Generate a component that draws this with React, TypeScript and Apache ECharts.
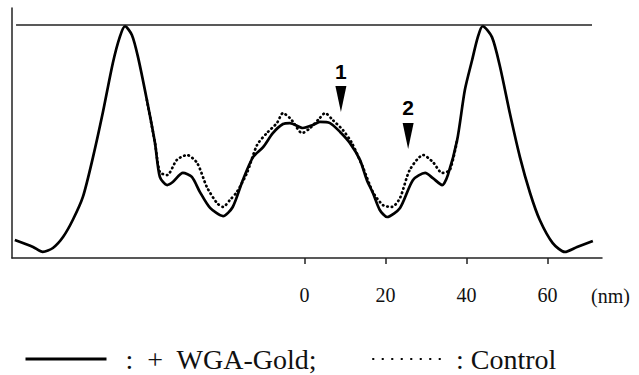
import React, { useEffect, useRef } from "react";
import * as echarts from "echarts";

// Distance along the profile (nm) and relative density, + WGA-Gold (solid)
const wgaX = [-71.5, -67.0, -64.6, -62.1, -59.6, -57.2, -54.7, -52.2, -49.8, -47.3, -45.6, -44.3, -42.6, -41.1, -38.9, -36.9, -35.7, -33.9, -32.5, -30.0, -27.8, -25.8, -23.3, -20.1, -17.7, -15.2, -12.7, -10.2, -7.8, -5.3, -3.6, -0.4, 2.1, 3.8, 6.3, 8.8, 11.2, 13.7, 15.4, 16.9, 18.6, 20.4, 23.6, 26.8, 29.8, 31.7, 34.0, 35.4, 37.7, 39.6, 41.4, 42.8, 44.0, 46.3, 48.3, 50.7, 53.2, 55.7, 58.1, 61.3, 64.3, 67.3, 71.2];
const wgaY = [7.7, 4.7, 2.6, 4.3, 9.0, 16.3, 26.2, 43.3, 62.2, 83.7, 94.8, 99.5, 95.7, 86.3, 67.8, 49.4, 34.8, 31.3, 32.6, 36.5, 34.8, 28.3, 21.5, 18.0, 21.9, 33.5, 43.3, 47.6, 53.6, 57.5, 57.9, 55.8, 57.1, 58.4, 57.9, 54.1, 49.4, 42.1, 33.5, 27.9, 20.6, 17.6, 21.5, 33.5, 36.5, 34.3, 31.3, 35.6, 50.6, 72.1, 85.0, 94.8, 99.5, 94.8, 82.0, 62.2, 43.3, 27.9, 16.3, 6.4, 2.6, 4.7, 7.3];

// Control (dotted) where it departs from the solid curve
const ctrlX = [-38.9, -36.9, -35.7, -33.9, -31.5, -29.0, -26.5, -24.1, -21.6, -20.1, -18.4, -16.7, -14.2, -11.7, -9.3, -6.8, -5.3, -3.6, -2.8, -0.6, 1.4, 3.8, 5.1, 7.0, 9.5, 11.7, 14.4, 16.9, 19.4, 21.6, 23.6, 26.0, 29.3, 31.7, 34.0, 35.9, 37.7];
const ctrlY = [67.8, 49.4, 36.9, 35.6, 42.1, 44.2, 40.8, 30.5, 23.6, 21.9, 24.9, 28.3, 36.5, 48.5, 53.6, 57.9, 62.2, 60.1, 58.4, 53.6, 55.8, 60.1, 62.2, 59.2, 54.9, 49.4, 39.1, 28.3, 22.7, 21.9, 25.8, 37.8, 44.2, 41.2, 36.5, 37.8, 50.6];

// Arrow annotations
const arrowLabels = ["1", "2"];
const arrowX = [9.0, 25.6];
const arrowY = [68.2, 52.4];

// Tick labels on the distance axis
const tickValues = [0, 20, 40, 60];

const X_MIN = -72.2;
const X_MAX = 73.46;
const Y_MAX = 107.3;

const SERIF = "'Liberation Serif', 'DejaVu Serif', serif";
const SANS = "'Liberation Sans', Arial, sans-serif";

export default function App() {
  const ref = useRef<HTMLDivElement>(null);
  useEffect(() => {
    if (!ref.current) return;
    const chart = echarts.init(ref.current, undefined, { renderer: "svg" });
    const wga = wgaX.map((x, i) => [x, wgaY[i]]);
    const ctrl = ctrlX.map((x, i) => [x, ctrlY[i]]);
    const legendText = { fontFamily: SERIF, fontSize: 28, color: "#111" };
    const hiddenSymbol = { opacity: 0, color: "rgba(0,0,0,0)", borderWidth: 0 };
    chart.setOption({
      animation: false,
      backgroundColor: "#ffffff",
      grid: [
        { left: 12, top: 8, width: 590, height: 250, containLabel: false },
        { left: 304.5, top: 8, width: 243, height: 250, containLabel: false },
      ],
      xAxis: [
        {
          type: "value",
          gridIndex: 0,
          min: X_MIN,
          max: X_MAX,
          axisLine: { show: true, onZero: false, lineStyle: { color: "#222", width: 1.5 } },
          axisTick: { show: false },
          axisLabel: { show: false },
          splitLine: { show: false },
        },
        {
          type: "value",
          gridIndex: 1,
          min: tickValues[0],
          max: tickValues[tickValues.length - 1],
          interval: 20,
          axisLine: { show: false, onZero: false },
          axisTick: { show: true, length: 6, lineStyle: { color: "#222", width: 1.5 } },
          axisLabel: {
            show: true,
            margin: 27,
            fontFamily: SERIF,
            fontSize: 20,
            color: "#111",
          },
          splitLine: { show: false },
        },
      ],
      yAxis: [
        {
          type: "value",
          gridIndex: 0,
          min: 0,
          max: Y_MAX,
          axisLine: { show: true, onZero: false, lineStyle: { color: "#222", width: 1.5 } },
          axisTick: { show: false },
          axisLabel: { show: false },
          splitLine: { show: false },
        },
        {
          type: "value",
          gridIndex: 1,
          min: 0,
          max: Y_MAX,
          show: false,
          axisLine: { show: false, onZero: false },
          axisTick: { show: false },
          axisLabel: { show: false },
          splitLine: { show: false },
        },
      ],
      legend: [
        {
          left: 19,
          top: 340,
          itemWidth: 81,
          itemHeight: 22,
          textStyle: legendText,
          itemStyle: hiddenSymbol,
          lineStyle: { width: 3 },
          data: ["WGA"],
          formatter: () => "  :  +  WGA-Gold;",
        },
        {
          left: 367,
          top: 340,
          itemWidth: 71,
          itemHeight: 22,
          textStyle: legendText,
          itemStyle: hiddenSymbol,
          lineStyle: { width: 2, type: [0.5, 9], cap: "round" },
          data: ["Control"],
          formatter: () => " : Control",
        },
      ],
      graphic: [
        {
          type: "text",
          left: 591,
          top: 286,
          style: { text: "(nm)", font: `20px ${SERIF}`, fill: "#111" },
        },
      ],
      series: [
        {
          name: "Control",
          type: "line",
          xAxisIndex: 0,
          yAxisIndex: 0,
          data: ctrl,
          smooth: 0.25,
          symbol: "none",
          lineStyle: { color: "#000", width: 2.7, type: [0.5, 4], cap: "round" },
          itemStyle: { color: "#000" },
          z: 2,
          markPoint: {
            symbol: "triangle",
            symbolRotate: 180,
            symbolSize: [11, 26],
            itemStyle: { color: "#000" },
            label: {
              show: true,
              position: "inside",
              offset: [0, -28],
              fontFamily: SANS,
              fontWeight: "bold",
              fontSize: 21,
              color: "#000",
              formatter: (p: any) => p.name,
            },
            data: arrowLabels.map((n, i) => ({ name: n, coord: [arrowX[i], arrowY[i]] })),
          },
        },
        {
          name: "WGA",
          type: "line",
          xAxisIndex: 0,
          yAxisIndex: 0,
          data: wga,
          smooth: 0.25,
          symbol: "none",
          lineStyle: { color: "#000", width: 2.7 },
          itemStyle: { color: "#000" },
          z: 3,
          markLine: {
            silent: true,
            symbol: ["none", "none"],
            label: { show: false },
            lineStyle: { color: "#222", width: 1.5, type: "solid" },
            data: [[{ coord: [-71.2, 100] }, { coord: [71.0, 100] }]],
          },
        },
      ],
    });
    return () => chart.dispose();
  }, []);
  return (
    <div
      ref={ref}
      style={{ position: "fixed", left: 0, top: 0, width: 639, height: 375, background: "#fff" }}
    />
  );
}
